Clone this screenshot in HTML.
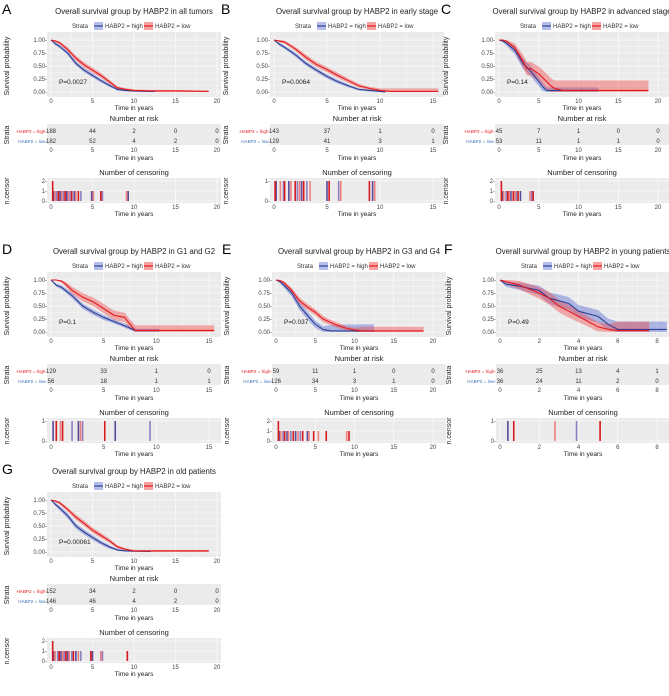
<!DOCTYPE html>
<html><head><meta charset="utf-8">
<style>
html,body{margin:0;padding:0;background:#fff;}
svg{display:block;font-family:"Liberation Sans",Arial,sans-serif;}
</style></head>
<body>
<svg id="fig" width="669" height="696" viewBox="0 0 669 696" xmlns="http://www.w3.org/2000/svg"></svg>
<script>
// ---------- DATA ----------
// Panel A
const A_t_high=[0,0.5,1,2,3,4,5,6,7,8,9,10,12,12.5];
const A_s_high=[1,0.93,0.88,0.75,0.55,0.42,0.32,0.22,0.13,0.05,0.03,0.02,0.01,0.01];
const A_ci_high=[0,0.03,0.03,0.04,0.04,0.04,0.04,0.035,0.03,0.02,0.02,0.015,0.01,0.01];
const A_t_low=[0,0.5,1,2,3,4,5,6,7,8,9,10,12,15,19];
const A_s_low=[1,0.98,0.95,0.82,0.65,0.52,0.42,0.32,0.2,0.08,0.05,0.03,0.02,0.02,0.01];
const A_ci_low=[0,0.02,0.03,0.04,0.05,0.05,0.05,0.045,0.04,0.03,0.025,0.02,0.02,0.02,0.02];
const A_risk_high=[188,44,2,0,0];
const A_risk_low=[182,52,4,2,0];
const A_cens_high=[0.3,0.7,1.1,1.5,1.9,2.3,2.8,3.6,4.9,6.2,9.3];
const A_censn_high=[1,1,1,1,1,1,1,1,1,1,1];
const A_cens_low=[0.2,0.5,0.9,1.3,1.7,2.1,2.5,3.0,3.3,5.1,6.0,9.1];
const A_censn_low=[2,1,1,1,1,1,1,1,1,1,1,1];
// Panel B
const B_t_high=[0,0.5,1,2,3,4,5,6,7,8,9,10,10.5];
const B_s_high=[1,0.92,0.86,0.72,0.55,0.42,0.30,0.20,0.12,0.05,0.03,0.01,0.0];
const B_ci_high=[0,0.03,0.03,0.04,0.04,0.04,0.04,0.035,0.03,0.02,0.02,0.01,0];
const B_t_low=[0,0.5,1,2,3,4,5,6,7,8,9,10,11,15.5];
const B_s_low=[1,0.98,0.96,0.83,0.67,0.53,0.43,0.32,0.22,0.12,0.07,0.03,0.01,0.01];
const B_ci_low=[0,0.02,0.03,0.04,0.05,0.05,0.05,0.05,0.045,0.035,0.03,0.04,0.06,0.06];
const B_risk_high=[143,37,1,0];
const B_risk_low=[129,41,3,1];
const B_cens_high=[0.2,0.9,1.4,2.2,2.6,3.1,5.0,6.1,9.3];
const B_censn_high=[1,1,1,1,1,1,1,1,1];
const B_cens_low=[0.1,0.6,1.0,1.6,2.0,2.4,2.8,3.4,5.2,6.3,9.0,9.5];
const B_censn_low=[1,1,1,1,1,1,1,1,1,1,1,1];
// Panel C
const C_t_high=[0,0.5,1,2,3,4,5,5.5,6,12.5];
const C_s_high=[1,0.98,0.93,0.8,0.55,0.4,0.2,0.1,0.03,0.03];
const C_ci_high=[0,0.03,0.05,0.08,0.1,0.1,0.09,0.08,0.06,0.06];
const C_t_low=[0,0.5,1,2,3,3.5,4,5,6,6.5,7,8,18.8];
const C_s_low=[1,1,0.97,0.85,0.6,0.45,0.45,0.35,0.2,0.12,0.07,0.03,0.03];
const C_ci_low=[0,0.02,0.04,0.08,0.12,0.13,0.13,0.14,0.15,0.15,0.15,0.19,0.19];
const C_risk_high=[45,7,1,0,0];
const C_risk_low=[53,11,1,1,0];
const C_cens_high=[0.4,0.9,1.5,2.2,2.7,4.1];
const C_censn_high=[1,1,1,1,1,1];
const C_cens_low=[0.3,0.6,1.1,1.3,1.8,2.0,2.4,3.9,4.3];
const C_censn_low=[2,1,1,1,1,1,1,1,1];
// Panel D
const D_t_high=[0,0.5,1,2,3,4,5,6,7,8,10.3];
const D_s_high=[1,0.9,0.86,0.7,0.5,0.38,0.28,0.2,0.12,0.03,0.03];
const D_ci_high=[0,0.03,0.04,0.05,0.05,0.05,0.05,0.04,0.04,0.03,0.03];
const D_t_low=[0,0.5,1,1.5,2,3,4,5,6,7,7.5,8,15.5];
const D_s_low=[1,1,0.98,0.9,0.8,0.67,0.58,0.45,0.32,0.28,0.15,0.03,0.03];
const D_ci_low=[0,0.01,0.03,0.05,0.07,0.08,0.08,0.09,0.09,0.09,0.09,0.1,0.1];
const D_risk_high=[129,33,1,0];
const D_risk_low=[56,18,1,1];
const D_cens_high=[0.2,2.0,2.6,3.0,6.1,9.4];
const D_censn_high=[1,1,1,1,1,1];
const D_cens_low=[0.5,0.9,1.1,2.8,5.1];
const D_censn_low=[1,1,1,1,1];
// Panel E
const E_t_high=[0,0.5,1,2,3,4,5,6,7,12.5];
const E_s_high=[1,0.97,0.9,0.75,0.5,0.32,0.15,0.05,0.02,0.02];
const E_ci_high=[0,0.03,0.05,0.07,0.08,0.08,0.07,0.06,0.12,0.13];
const E_t_low=[0,0.5,1,2,3,4,5,6,7,8,9,10,11,18.8];
const E_s_low=[1,0.99,0.95,0.8,0.6,0.48,0.38,0.25,0.18,0.12,0.07,0.04,0.02,0.02];
const E_ci_low=[0,0.02,0.03,0.05,0.06,0.06,0.06,0.06,0.05,0.05,0.04,0.04,0.08,0.08];
const E_risk_high=[59,11,1,0,0];
const E_risk_low=[126,34,3,1,0];
const E_cens_high=[0.4,0.9,1.4,1.9,2.5,3.1,4.0];
const E_censn_high=[1,1,1,1,1,1,1];
const E_cens_low=[0.3,0.6,1.1,1.6,2.2,2.8,3.4,4.2,4.8,5.4,6.4,9.0,9.3];
const E_censn_low=[2,1,1,1,1,1,1,1,1,1,1,1,1];
// Panel F
const F_t_high=[0,0.3,1,2,2.5,3,3.5,4,5,5.5,6,8.5];
const F_s_high=[1,0.92,0.88,0.8,0.65,0.6,0.55,0.4,0.3,0.15,0.05,0.05];
const F_ci_high=[0,0.05,0.07,0.09,0.11,0.12,0.12,0.12,0.12,0.11,0.15,0.15];
const F_t_low=[0,0.5,1,2,2.5,3,3.5,4,4.5,5,5.5,6,7.6];
const F_s_low=[1,0.95,0.9,0.75,0.65,0.5,0.4,0.3,0.2,0.1,0.05,0.03,0.03];
const F_ci_low=[0,0.06,0.08,0.11,0.12,0.12,0.12,0.11,0.1,0.09,0.1,0.17,0.17];
const F_risk_high=[36,25,13,4,1];
const F_risk_low=[36,24,11,2,0];
const F_cens_high=[0.4,3.9];
const F_censn_high=[1,1];
const F_cens_low=[0.7,2.8,5.1];
const F_censn_low=[1,1,1];
// Panel G
const G_t_high=[0,0.5,1,2,3,4,5,6,7,8,9,12];
const G_s_high=[1,0.92,0.85,0.7,0.5,0.38,0.28,0.18,0.1,0.04,0.02,0.01];
const G_ci_high=[0,0.03,0.04,0.05,0.05,0.05,0.05,0.04,0.035,0.02,0.015,0.01];
const G_t_low=[0,0.5,1,2,3,4,5,6,7,8,9,10,19];
const G_s_low=[1,0.98,0.95,0.82,0.67,0.55,0.42,0.32,0.22,0.1,0.05,0.02,0.02];
const G_ci_low=[0,0.02,0.03,0.04,0.05,0.05,0.05,0.05,0.04,0.03,0.025,0.02,0.02];
const G_risk_high=[152,34,2,0,0];
const G_risk_low=[146,46,4,2,0];
const G_cens_high=[0.3,0.8,1.2,1.6,2.0,2.5,3.0,3.6,5.0,6.2];
const G_censn_high=[1,1,1,1,1,1,1,1,1,1];
const G_cens_low=[0.2,0.5,1.0,1.4,1.8,2.2,2.7,3.3,4.8,6.0,9.2];
const G_censn_low=[2,1,1,1,1,1,1,1,1,1,1];

const titles=["Overall survival group by HABP2 in all tumors","Overall survival group by HABP2 in early stage","Overall survival group by HABP2 in advanced stage","Overall survival group by HABP2 in G1 and G2","Overall survival group by HABP2 in G3 and G4","Overall survival group by HABP2 in young patients","Overall survival group by HABP2 in old patients"];
const letters=["A","B","C","D","E","F","G"];
const pvals=["P=0.0027","P=0.0064","P=0.14","P=0.1","P=0.037","P=0.49","P=0.00061"];
const xTicks20=[0,5,10,15,20];
const xTicks15=[0,5,10,15];
const xTicks8=[0,2,4,6,8];
const survTicks=[1,0.75,0.5,0.25,0];
const survTickLabels=["1.00","0.75","0.50","0.25","0.00"];

// ---------- LAYOUT ----------
const panels=[
 {id:"a",lx:2,x0:51,off:0,span:166,xmax:20,ticks:xTicks20,cmax:2,th:A_t_high,sh:A_s_high,ch:A_ci_high,tl:A_t_low,sl:A_s_low,cl:A_ci_low,rh:A_risk_high,rl:A_risk_low,ceh:A_cens_high,cnh:A_censn_high,cel:A_cens_low,cnl:A_censn_low},
 {id:"b",lx:221,x0:274,off:0,span:159,xmax:15,ticks:xTicks15,cmax:1,th:B_t_high,sh:B_s_high,ch:B_ci_high,tl:B_t_low,sl:B_s_low,cl:B_ci_low,rh:B_risk_high,rl:B_risk_low,ceh:B_cens_high,cnh:B_censn_high,cel:B_cens_low,cnl:B_censn_low},
 {id:"c",lx:441,x0:499,off:0,span:159,xmax:20,ticks:xTicks20,cmax:2,th:C_t_high,sh:C_s_high,ch:C_ci_high,tl:C_t_low,sl:C_s_low,cl:C_ci_low,rh:C_risk_high,rl:C_risk_low,ceh:C_cens_high,cnh:C_censn_high,cel:C_cens_low,cnl:C_censn_low},
 {id:"d",lx:2,x0:51,off:240,span:158,xmax:15,ticks:xTicks15,cmax:1,th:D_t_high,sh:D_s_high,ch:D_ci_high,tl:D_t_low,sl:D_s_low,cl:D_ci_low,rh:D_risk_high,rl:D_risk_low,ceh:D_cens_high,cnh:D_censn_high,cel:D_cens_low,cnl:D_censn_low},
 {id:"e",lx:222,x0:276,off:240,span:157,xmax:20,ticks:xTicks20,cmax:2,th:E_t_high,sh:E_s_high,ch:E_ci_high,tl:E_t_low,sl:E_s_low,cl:E_ci_low,rh:E_risk_high,rl:E_risk_low,ceh:E_cens_high,cnh:E_censn_high,cel:E_cens_low,cnl:E_censn_low},
 {id:"f",lx:444,x0:500,off:240,span:157,xmax:8,ticks:xTicks8,cmax:1,th:F_t_high,sh:F_s_high,ch:F_ci_high,tl:F_t_low,sl:F_s_low,cl:F_ci_low,rh:F_risk_high,rl:F_risk_low,ceh:F_cens_high,cnh:F_censn_high,cel:F_cens_low,cnl:F_censn_low},
 {id:"g",lx:2,x0:51,off:460,span:166,xmax:20,ticks:xTicks20,cmax:2,th:G_t_high,sh:G_s_high,ch:G_ci_high,tl:G_t_low,sl:G_s_low,cl:G_ci_low,rh:G_risk_high,rl:G_risk_low,ceh:G_cens_high,cnh:G_censn_high,cel:G_cens_low,cnl:G_censn_low}
];

const NS="http://www.w3.org/2000/svg";
const svg=document.getElementById("fig");
function mk(tag,attrs,parent){const e=document.createElementNS(NS,tag);for(const k in attrs)e.setAttribute(k,attrs[k]);(parent||svg).appendChild(e);return e;}
function txt(s,attrs,parent){const e=mk("text",attrs,parent);e.textContent=s;return e;}

const BLUE="#2f3f93",RED="#e3191c";
const BLUEF="rgba(90,110,210,0.45)",REDF="rgba(240,70,70,0.42)";

panels.forEach((p,i)=>{
 const g=mk("g",{});
 
 
 const sx=t=>p.x0+t*p.span/p.xmax;
 const sy=s=>p.off+92-s*52;
 const L=p.x0-4,R=p.x0+170;
 const lt=txt(letters[i],{x:p.lx,y:p.off+14,"font-size":14,fill:"#000"},g);
 
 
 const ti=txt(titles[i],{x:(L+R)/2,y:p.off+14,"font-size":7.8,"text-anchor":"middle",fill:"#222"},g);
 
 
 const lg=mk("g",{},g);
 
 
 const lc=(L+R)/2;
 txt("Strata",{x:lc-62,y:p.off+28,"font-size":6,fill:"#333"},lg);
 mk("rect",{x:lc-40,y:p.off+22,width:9,height:8,fill:"rgba(90,110,210,0.45)"},lg);
 mk("line",{x1:lc-40,x2:lc-31,y1:p.off+26,y2:p.off+26,stroke:BLUE,"stroke-width":1.2},lg);
 txt("HABP2 = high",{x:lc-29,y:p.off+28,"font-size":6,fill:"#333"},lg);
 mk("rect",{x:lc+10,y:p.off+22,width:9,height:8,fill:"rgba(240,70,70,0.5)"},lg);
 mk("line",{x1:lc+10,x2:lc+19,y1:p.off+26,y2:p.off+26,stroke:RED,"stroke-width":1.2},lg);
 txt("HABP2 = low",{x:lc+21,y:p.off+28,"font-size":6,fill:"#333"},lg);
 const bg=mk("rect",{x:L,y:p.off+32,width:R-L,height:65,fill:"#ebebeb"},g);
 
 
 p.ticks.forEach((t,k)=>{
  mk("line",{x1:sx(t),x2:sx(t),y1:p.off+32,y2:p.off+97,stroke:"#fff","stroke-width":0.6},g);
  if(k<p.ticks.length-1){const m=(t+p.ticks[k+1])/2;mk("line",{x1:sx(m),x2:sx(m),y1:p.off+32,y2:p.off+97,stroke:"#fff","stroke-width":0.3},g);}
  const tl=txt(String(t),{x:sx(t),y:p.off+103,"font-size":6,"text-anchor":"middle",fill:"#444"},g);
  
  
 });
 survTicks.forEach((s,k)=>{
  mk("line",{x1:L,x2:R,y1:sy(s),y2:sy(s),stroke:"#fff","stroke-width":0.6},g);
  if(k<4)mk("line",{x1:L,x2:R,y1:sy(s-0.125),y2:sy(s-0.125),stroke:"#fff","stroke-width":0.3},g);
  const yl=txt(survTickLabels[k]+"-",{x:L,y:sy(s)+2,"font-size":6,"text-anchor":"end",fill:"#444"},g);
  
  
 });
 const yt=txt("Survival probability",{x:0,y:0,"font-size":7,"text-anchor":"middle",fill:"#222",transform:`translate(${p.lx+7},${p.off+66}) rotate(-90)`},g);
 
 
 const xt=txt("Time in years",{x:(L+R)/2,y:p.off+110,"font-size":6.5,"text-anchor":"middle",fill:"#222"},g);
 
 
 // curves: connected points (many small KM steps approximated)
 function pts(T,S){return T.map((t,k)=>[sx(t),sy(S[k])]);}
 function band(T,S,C,fill,name){
  const up=S.map((s,k)=>Math.min(1,s+C[k])),lo=S.map((s,k)=>Math.max(0,s-C[k]));
  const a=pts(T,up),b=pts(T,lo).reverse();
  const e=mk("polygon",{points:a.concat(b).map(q=>q.join(",")).join(" "),fill:fill},g);
  
  
 }
 function line(T,S,col,name){
  const e=mk("polyline",{points:pts(T,S).map(q=>q.join(",")).join(" "),fill:"none",stroke:col,"stroke-width":1.1,"stroke-linejoin":"round"},g);
  
  
 }
 band(p.th,p.sh,p.ch,BLUEF,"ci-band-high");
 band(p.tl,p.sl,p.cl,REDF,"ci-band-low");
 line(p.th,p.sh,BLUE,"survival-curve-high");
 line(p.tl,p.sl,RED,"survival-curve-low");
 const pv=txt(pvals[i],{x:sx(0)+8,y:p.off+84,"font-size":6.5,fill:"#222"},g);
 
 
 const rt=txt("Number at risk",{x:(L+R)/2,y:p.off+121,"font-size":7.5,"text-anchor":"middle",fill:"#222"},g);
 
 
 const rbg=mk("rect",{x:L,y:p.off+124,width:R-L,height:21,fill:"#ebebeb"},g);
 
 
 txt("HABP2 = high-",{x:L,y:p.off+133,"font-size":4.6,"text-anchor":"end",fill:RED},g);
 txt("HABP2 = low-",{x:L,y:p.off+143,"font-size":4.6,"text-anchor":"end",fill:"#3a73b8"},g);
 const st=txt("Strata",{x:0,y:0,"font-size":7,"text-anchor":"middle",fill:"#222",transform:`translate(${p.lx+7},${p.off+135}) rotate(-90)`},g);
 
 
 p.ticks.forEach((t,k)=>{
  const a=txt(String(p.rh[k]),{x:sx(t),y:p.off+133,"font-size":6,"text-anchor":"middle",fill:"#333"},g);
  
  
  const b=txt(String(p.rl[k]),{x:sx(t),y:p.off+143,"font-size":6,"text-anchor":"middle",fill:"#333"},g);
  
  
  txt(String(t),{x:sx(t),y:p.off+152,"font-size":6,"text-anchor":"middle",fill:"#444"},g);
  txt(String(t),{x:sx(t),y:p.off+209,"font-size":6,"text-anchor":"middle",fill:"#444"},g);
 });
 txt("Time in years",{x:(L+R)/2,y:p.off+160,"font-size":6.5,"text-anchor":"middle",fill:"#222"},g);
 const ct=txt("Number of censoring",{x:(L+R)/2,y:p.off+175,"font-size":7.5,"text-anchor":"middle",fill:"#222"},g);
 
 
 const cbg=mk("rect",{x:L,y:p.off+178,width:R-L,height:25,fill:"#ebebeb"},g);
 
 
 const cy=n=>p.off+201-n*(20/p.cmax);
 for(let n=0;n<=p.cmax;n++){
  mk("line",{x1:L,x2:R,y1:cy(n),y2:cy(n),stroke:"#fff","stroke-width":0.6},g);
  txt(n+"-",{x:L,y:cy(n)+2,"font-size":6,"text-anchor":"end",fill:"#444"},g);
 }
 p.ticks.forEach(t=>mk("line",{x1:sx(t),x2:sx(t),y1:p.off+178,y2:p.off+203,stroke:"#fff","stroke-width":0.6},g));
 const cn=txt("n.censor",{x:0,y:0,"font-size":7,"text-anchor":"middle",fill:"#222",transform:`translate(${p.lx+7},${p.off+191}) rotate(-90)`},g);
 
 
 p.ceh.forEach((t,k)=>{
  const r=mk("rect",{x:sx(t)-0.8,y:cy(p.cnh[k]),width:1.6,height:cy(0)-cy(p.cnh[k]),fill:k%2?"#8e7fc0":"#5a4a9a"},g);
  
  
 });
 p.cel.forEach((t,k)=>{
  const r=mk("rect",{x:sx(t)-0.8,y:cy(p.cnl[k]),width:1.6,height:cy(0)-cy(p.cnl[k]),fill:k%2?"#ef8080":"#d7191c"},g);
  
  
 });
 txt("Time in years",{x:(L+R)/2,y:p.off+216,"font-size":6.5,"text-anchor":"middle",fill:"#222"},g);
});
</script>
</body></html>
